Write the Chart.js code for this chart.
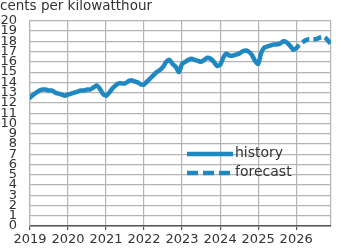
<!DOCTYPE html>
<html>
<head>
<meta charset="utf-8">
<script src="https://cdn.jsdelivr.net/npm/chart.js@4.4.1/dist/chart.umd.min.js"></script>
<style>
html,body{margin:0;padding:0;background:#fff;}
#wrap{width:350px;height:250px;position:relative;}
</style>
</head>
<body>
<div id="wrap"><canvas id="c" width="350" height="250"></canvas></div>
<script>
// ---- data ----
const startYear = 2019;
const yearTicks = [2019, 2020, 2021, 2022, 2023, 2024, 2025, 2026];
const yTickLabels = [0,1,2,3,4,5,6,7,8,9,10,11,12,13,14,15,16,17,18,19,20];
// monthly history, Jan 2019 - Dec 2025 (cents per kWh)
const historyValues = [
  12.5, 12.8, 13.0, 13.2, 13.3, 13.3, 13.2, 13.2, 13.0, 12.9, 12.8, 12.7,
  12.8, 12.9, 13.0, 13.1, 13.2, 13.2, 13.3, 13.3, 13.5, 13.7, 13.4, 12.9,
  12.7, 13.0, 13.4, 13.7, 13.9, 13.9, 13.9, 14.1, 14.2, 14.1, 14.0, 13.8,
  13.8, 14.1, 14.4, 14.7, 15.0, 15.2, 15.5, 16.0, 16.2, 15.8, 15.5, 15.0,
  15.8, 16.0, 16.2, 16.3, 16.2, 16.1, 16.0, 16.2, 16.4, 16.3, 16.0, 15.6,
  15.7, 16.4, 16.8, 16.6, 16.6, 16.7, 16.8, 17.0, 17.1, 17.0, 16.7, 16.1,
  15.8, 16.9, 17.4, 17.5, 17.6, 17.7, 17.7, 17.8, 18.0, 17.9, 17.6, 17.2
];
// forecast, Dec 2025 - Dec 2026
const forecastStartIndex = 83;
const forecastValues = [
  17.2, 17.3, 17.7, 17.9, 18.1, 18.2, 18.2, 18.2, 18.3, 18.4, 18.4, 18.1, 17.7
];
const titleText = 'cents per kilowatthour';
const legendLabels = ['history', 'forecast'];

// ---- build ----
const color = '#1e88c2';
const toX = i => startYear + i / 12;
const histPts = historyValues.map((v, i) => ({x: toX(i), y: v}));
const fcstPts = forecastValues.map((v, i) => ({x: toX(forecastStartIndex + i), y: v}));
const xMax = toX(forecastStartIndex + forecastValues.length - 1);
const FONT = '"DejaVu Sans", sans-serif';
const GRID = '#b4b4b4';

const overlay = {
  id: 'overlay',
  afterDraw(chart) {
    const ctx = chart.ctx;
    ctx.save();
    ctx.fillStyle = '#333';
    ctx.font = '13.5px ' + FONT;
    ctx.textBaseline = 'alphabetic';
    ctx.textAlign = 'left';
    ctx.fillText(titleText, 0, 9.5);
    // legend
    const lx0 = 187, lx1 = 233;
    const ys = [154, 173];
    ctx.strokeStyle = color;
    ctx.lineWidth = 4.5;
    ctx.lineCap = 'butt';
    ys.forEach((y, k) => {
      ctx.setLineDash(k === 1 ? [11, 5] : []);
      ctx.beginPath();
      ctx.moveTo(lx0, y);
      ctx.lineTo(lx1, y);
      ctx.stroke();
    });
    ctx.setLineDash([]);
    ctx.font = '14px ' + FONT;
    ctx.textBaseline = 'middle';
    ctx.fillStyle = '#333';
    ys.forEach((y, k) => ctx.fillText(legendLabels[k], 235, y - 1));
    ctx.restore();
  }
};

new Chart(document.getElementById('c'), {
  type: 'line',
  data: {
    datasets: [
      {data: histPts, borderColor: color, borderWidth: 4.5, pointRadius: 0, tension: 0.2, borderCapStyle: 'round', borderJoinStyle: 'round', fill: false},
      {data: fcstPts, borderColor: color, borderWidth: 4.5, pointRadius: 0, tension: 0.2, borderDash: [8, 4], fill: false}
    ]
  },
  options: {
    responsive: false,
    animation: false,
    devicePixelRatio: 1,
    layout: {padding: {top: 20, right: 19, left: 0, bottom: 0}},
    plugins: {legend: {display: false}, tooltip: {enabled: false}},
    scales: {
      x: {
        type: 'linear',
        min: startYear,
        max: xMax,
        afterBuildTicks(scale) {
          scale.ticks = yearTicks.map(v => ({value: v})).concat([{value: xMax}]);
        },
        afterFit(scale) { scale.height = 24; },
        ticks: {
          autoSkip: false,
          maxRotation: 0,
          color: '#333',
          font: {family: FONT, size: 13},
          padding: 2,
          callback: v => (yearTicks.includes(v) ? String(v) : '')
        },
        grid: {
          color: GRID,
          lineWidth: 1.2,
          tickLength: 4,
          tickColor: c => (c.tick && yearTicks.includes(c.tick.value) ? '#555' : 'rgba(0,0,0,0)')
        },
        border: {color: '#555', width: 1.5}
      },
      y: {
        min: 0,
        max: 20,
        afterBuildTicks(scale) {
          scale.ticks = yTickLabels.map(v => ({value: v}));
        },
        afterFit(scale) { scale.width = 30; },
        ticks: {
          autoSkip: false,
          color: '#333',
          font: {family: FONT, size: 13},
          padding: 13,
          callback: v => String(v)
        },
        grid: {color: GRID, lineWidth: 1.2, drawTicks: false},
        border: {color: GRID, width: 1.2}
      }
    }
  },
  plugins: [overlay]
});
</script>
</body>
</html>
